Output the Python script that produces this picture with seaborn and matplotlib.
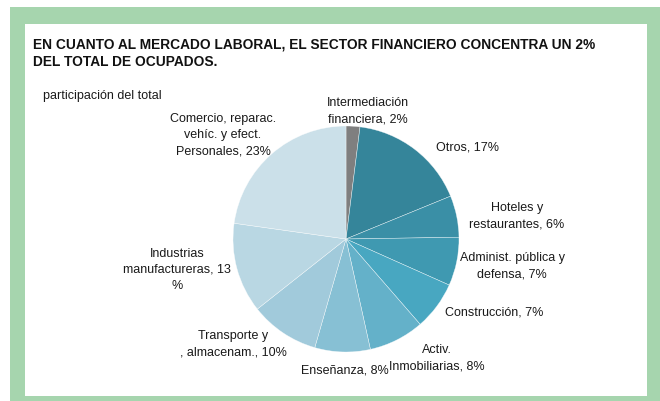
import matplotlib
matplotlib.use("Agg")
import matplotlib.pyplot as plt
import seaborn as sns
from matplotlib.patches import Rectangle

sns.set_theme(style="white")
plt.rcParams['font.family'] = ['Liberation Sans', 'DejaVu Sans']

# ---- data ----
categories = [
    "Intermediación\nfinanciera, 2%",
    "Otros, 17%",
    "Hoteles y\nrestaurantes, 6%",
    "Administ. pública y\ndefensa, 7%",
    "Construcción, 7%",
    "Activ.\nInmobiliarias, 8%",
    "Enseñanza, 8%",
    "Transporte y\n, almacenam., 10%",
    "Industrias\nmanufactureras, 13\n%",
    "Comercio, reparac.\nvehíc. y efect.\nPersonales, 23%",
]
values = [2, 17, 6, 7, 7, 8, 8, 10, 13, 23]
colors = ["#7f7f7f", "#35859a", "#3a8fa6", "#3f99b1", "#48a7c1",
          "#64b1c9", "#87c0d4", "#a1cadb", "#b9d7e3", "#cbe0e9"]

title = ("EN CUANTO AL MERCADO LABORAL, EL SECTOR FINANCIERO CONCENTRA UN 2%\n"
         "DEL TOTAL DE OCUPADOS.")
subtitle = "participación del total"

# label centres in pixels (x, y from top)
label_pos = [(368, 111), (468, 148), (517, 216), (512, 266), (494, 313),
             (437, 358), (345, 371), (233, 344), (177, 270), (223, 135)]

W, H = 660, 402
fig = plt.figure(figsize=(W / 100, H / 100), dpi=100)
fig.patch.set_facecolor("white")

green = "#a6d5ae"
# frame
fig.patches.append(Rectangle((10 / W, 0), (W - 10) / W, (H - 8) / H,
                             transform=fig.transFigure, facecolor=green,
                             edgecolor="none", zorder=-2))
fig.patches.append(Rectangle((25 / W, (H - 397) / H), (647 - 25) / W, (397 - 25) / H,
                             transform=fig.transFigure, facecolor="white",
                             edgecolor="none", zorder=-1))

cx, cy, r = 346, 240, 113
ax = fig.add_axes([(cx - r) / W, (H - cy - r) / H, 2 * r / W, 2 * r / H])
ax.set_zorder(2)
ax.patch.set_alpha(0)
ax.pie(values, colors=colors, startangle=90, counterclock=False,
       wedgeprops=dict(edgecolor=(1, 1, 1, 0.7), linewidth=0.35))
ax.set_xlim(-1, 1)
ax.set_ylim(-1, 1)
ax.set_aspect("auto")
ax.axis("off")

for lab, (x, y) in zip(categories, label_pos):
    fig.text(x / W, 1 - y / H, lab, ha="center", va="center",
             fontsize=9, color="#1a1a1a", linespacing=1.45, zorder=3)

fig.text(33 / W, 1 - 53.5 / H, title, ha="left", va="center", fontsize=9.9,
         fontweight="bold", color="#111111", linespacing=1.3, zorder=3)
fig.text(43 / W, 1 - 96 / H, subtitle, ha="left", va="center", fontsize=9,
         color="#1a1a1a", zorder=3)

fig.savefig("out.png", dpi=100, facecolor="white")
